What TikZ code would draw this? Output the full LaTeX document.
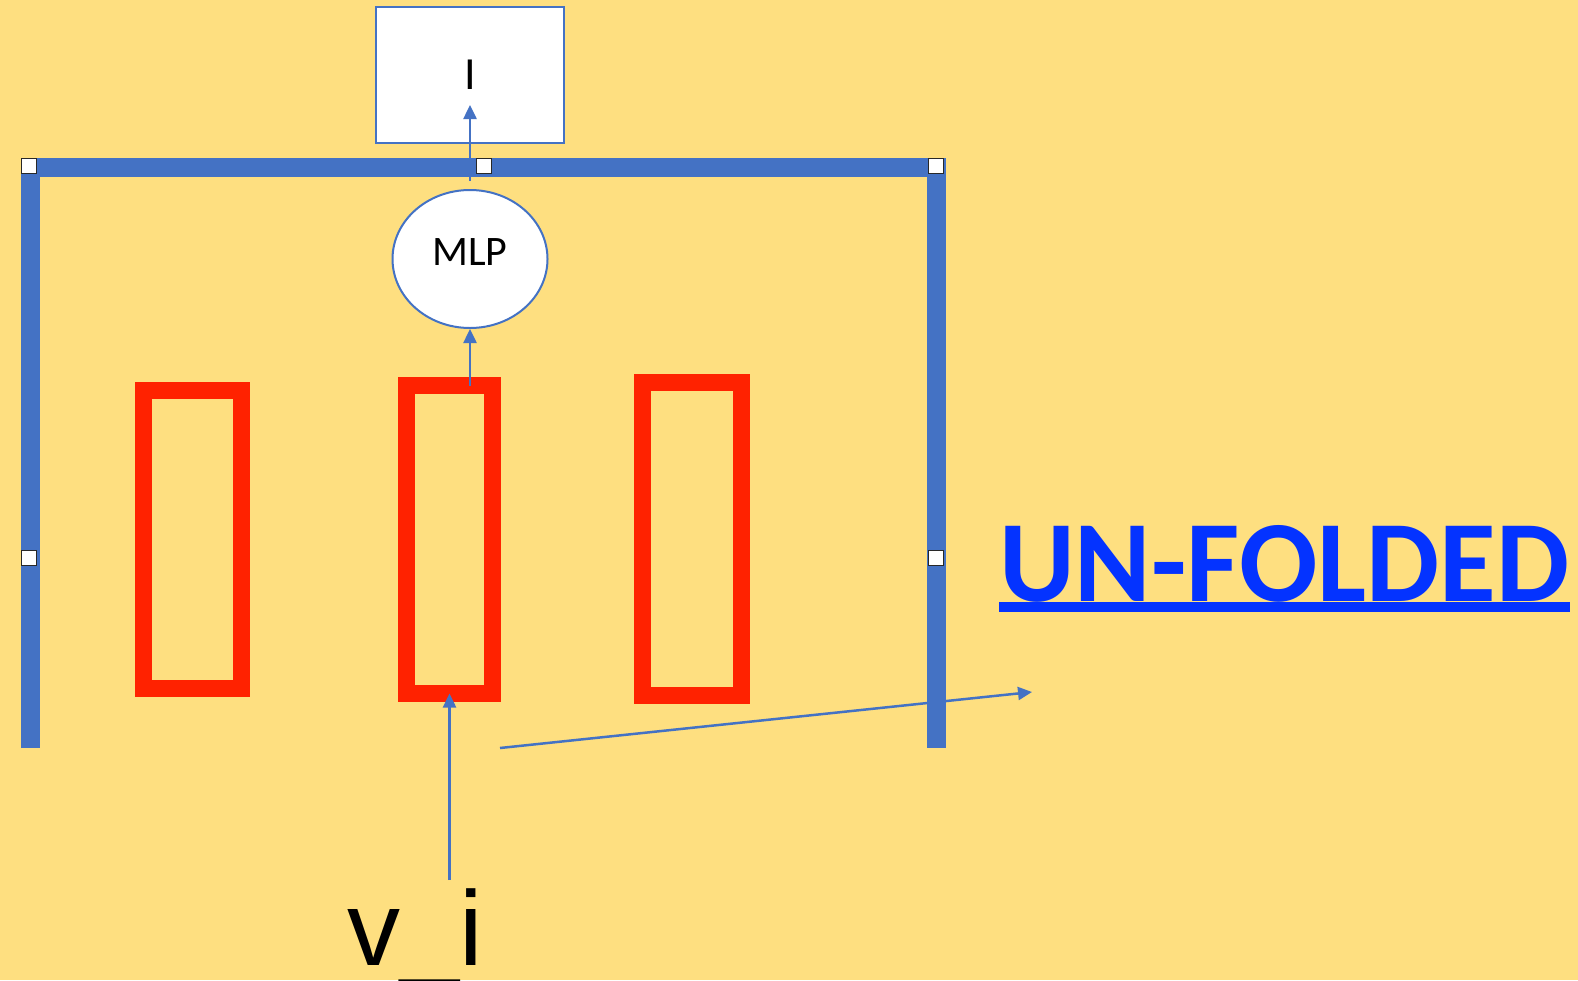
\documentclass[tikz,border=0pt]{standalone}
\usepackage{fontspec}
\setmainfont{Liberation Sans}
\newfontfamily\calfont{Carlito}
\usetikzlibrary{shapes.geometric,arrows.meta}

\definecolor{bgyellow}{RGB}{254,223,128}
\definecolor{frameblue}{RGB}{68,114,196}
\definecolor{boxred}{RGB}{255,34,0}
\definecolor{textblue}{RGB}{4,51,255}

\tikzset{
  bracket/.style={draw=frameblue,line width=19pt},
  handle/.style={draw={rgb,255:red,40;green,40;blue,40},fill=white,line width=1.5pt,
    minimum size=15pt,inner sep=0pt,outer sep=0pt},
  redbox/.style={draw=boxred,line width=17pt,inner sep=0pt,outer sep=0pt},
  outbox/.style={draw=frameblue,line width=2pt,fill=white,minimum width=188pt,
    minimum height=136pt,inner sep=0pt,font=\calfont\fontsize{46}{50}\selectfont},
  mlpnode/.style={ellipse,draw=frameblue,line width=2pt,fill=white,minimum width=155pt,
    minimum height=138pt,inner sep=0pt,text depth=13pt,
    font=\calfont\fontsize{42}{46}\selectfont},
  arr/.style={draw=frameblue,line width=2.5pt,-{Triangle[length=14pt,width=13pt]}},
  vilabel/.style={inner sep=0pt,font=\fontsize{106}{120}\selectfont},
  foldlabel/.style={inner sep=0pt,text=textblue,font=\calfont\bfseries\fontsize{116}{136}\selectfont},
}

\begin{document}
\begin{tikzpicture}[x=1pt,y=-1pt]
    % Canvas: 1578 x 980, y runs downwards
    \useasboundingbox (0,0) rectangle (1578,980);
    \fill[bgyellow] (0,0) rectangle (1578,980);

    % Blue frame around the recurrent part
    \draw[bracket] (30,748) -- (30,167) -- (936,167) -- (936,748);

    % Selection handles on the frame
    \foreach \name/\pos in {h1/{(29,166)}, h2/{(484,166)}, h3/{(936,166)},
                            h4/{(29,558)}, h5/{(936,558)}}
        \node[handle] (\name) at \pos {};

    % Output box and MLP
    \node[outbox] (out) at (470,75) {I};
    \node[mlpnode] (mlp) at (470,259) {MLP};

    % Three red cells
    \node[redbox,minimum width=98pt,minimum height=298pt] (leftbox) at (192.5,539.5) {};
    \node[redbox,minimum width=86pt,minimum height=308pt] (midbox) at (449.5,539.5) {};
    \node[redbox,minimum width=99pt,minimum height=313pt] (rightbox) at (692,539) {};

    % Input label
    \node[vilabel,anchor=base] (vi) at (415,965) {v\_i};

    % Label on the right
    \node[foldlabel,anchor=base west] (unf) at (999,601) {UN-FOLDED};
    \draw[textblue,line width=10pt] ([yshift=-6pt]unf.base west) -- ([yshift=-6pt]unf.base east);

    % Arrows
    \draw[arr] ([yshift=8pt]midbox.south |- vi.north) -- (midbox.south);
    \draw[arr] (mlp.south |- midbox.north) -- (mlp.south);
    \draw[arr] ([yshift=8pt]mlp.north) -- ([yshift=-30pt]out.center);

    \coordinate (tail) at (500,748);
    \coordinate (head) at (1032,692);
    \draw[arr] (tail) -- (head);
\end{tikzpicture}
\end{document}
